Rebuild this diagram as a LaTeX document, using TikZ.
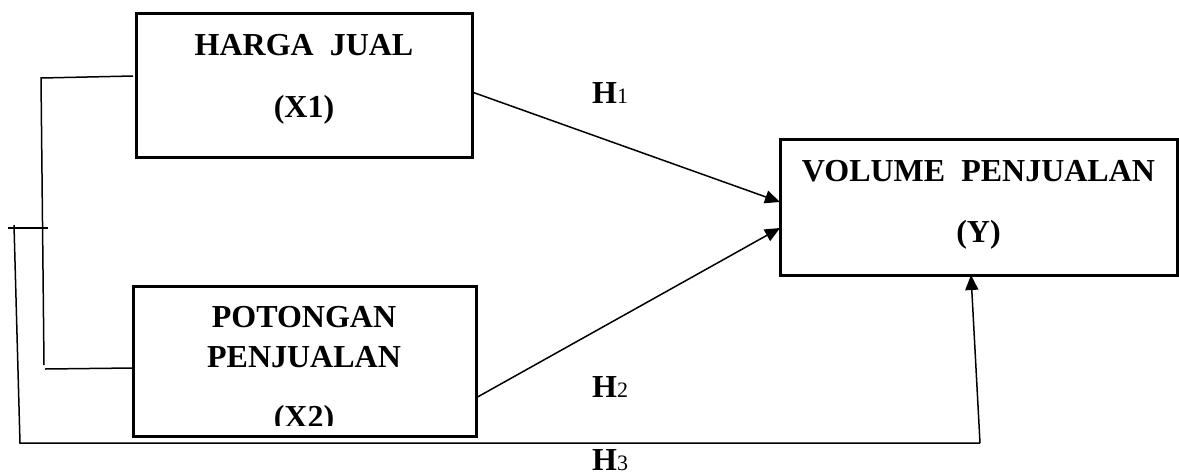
\documentclass[tikz,border=0pt]{standalone}
\usepackage{fontspec}
\setmainfont{Liberation Serif}
\usetikzlibrary{arrows.meta,calc}
\begin{document}
\begin{tikzpicture}[x=1pt,y=-1pt,
  varbox/.style={draw,line width=3pt,inner sep=0pt,outer sep=0pt},
  label/.style={font=\fontsize{32}{36}\selectfont\bfseries,inner sep=0pt,anchor=base},
  hyp/.style={font=\fontsize{32}{36}\selectfont\bfseries,inner sep=0pt,anchor=base west},
  link/.style={line width=1.5pt},
  arrow/.style={line width=1.5pt,-{Triangle[length=15pt,width=13pt]}}]
\useasboundingbox (0,0) rectangle (1179,475);

% variable boxes
\node[varbox,minimum width=336pt,minimum height=144pt] (b1) at (304,85) {};
\node[varbox,minimum width=343pt,minimum height=150pt] (b2) at (304.5,361) {};
\node[varbox,minimum width=397pt,minimum height=136pt] (b3) at (978.5,207) {};

% box texts
\node[label] (t1a) at (304,55) {HARGA\hspace{0.5em}JUAL};
\node[label] (t1b) at (304,117) {(X1)};
\node[label] (t2a) at (304,327) {POTONGAN};
\node[label] (t2b) at (304,367) {PENJUALAN};
\begin{scope}
  \clip (133,286) rectangle (476,425);
  \node[label] (t2c) at (304,427) {(X2)};
\end{scope}
\node[label] (t3a) at (978.5,181) {VOLUME\hspace{0.5em}PENJUALAN};
\node[label] (t3b) at (978.5,242) {(Y)};

% hypothesis labels
\newcommand{\hsub}[1]{{\fontsize{22}{24}\selectfont\mdseries #1}}
\node[hyp] (h1) at (592,103) {H\hsub{1}};
\node[hyp] (h2) at (592,397) {H\hsub{2}};
\node[hyp] (h3) at (592,470) {H\hsub{3}};

% arrow end points
\coordinate (a1s) at ($(b1.east)+(0,7)$);
\coordinate (a1e) at ($(b3.west)+(0,-5)$);
\coordinate (a2s) at ($(b2.east)+(1.5,36)$);
\coordinate (a2e) at ($(b3.west)+(0,21)$);
\coordinate (a3s) at (980,443);
\coordinate (a3e) at ($(b3.south)+(-7.5,0)$);

\draw[arrow] (a1s) -- (a1e);
\draw[arrow] (a2s) -- (a2e);
\draw[arrow] (a3s) -- (a3e);

% correlation bracket between X1 and X2
\coordinate (c1) at (41,78);
\coordinate (c2) at (44,365);
\coordinate (c3) at (45,369);
\draw[link] ($(b1.west)+(-3,-9)$) -- (c1) -- (c2);
\draw[link] (c3) -- ($(b2.west)+(0,7)$);

% joint path from both variables to Y
\coordinate (k1) at (8,228);
\coordinate (k2) at (48,228);
\coordinate (k3) at (14,225);
\coordinate (k4) at (20,443);
\draw[link] (k1) -- (k2);
\draw[link] (k3) -- (k4) -- (a3s);
\end{tikzpicture}
\end{document}
